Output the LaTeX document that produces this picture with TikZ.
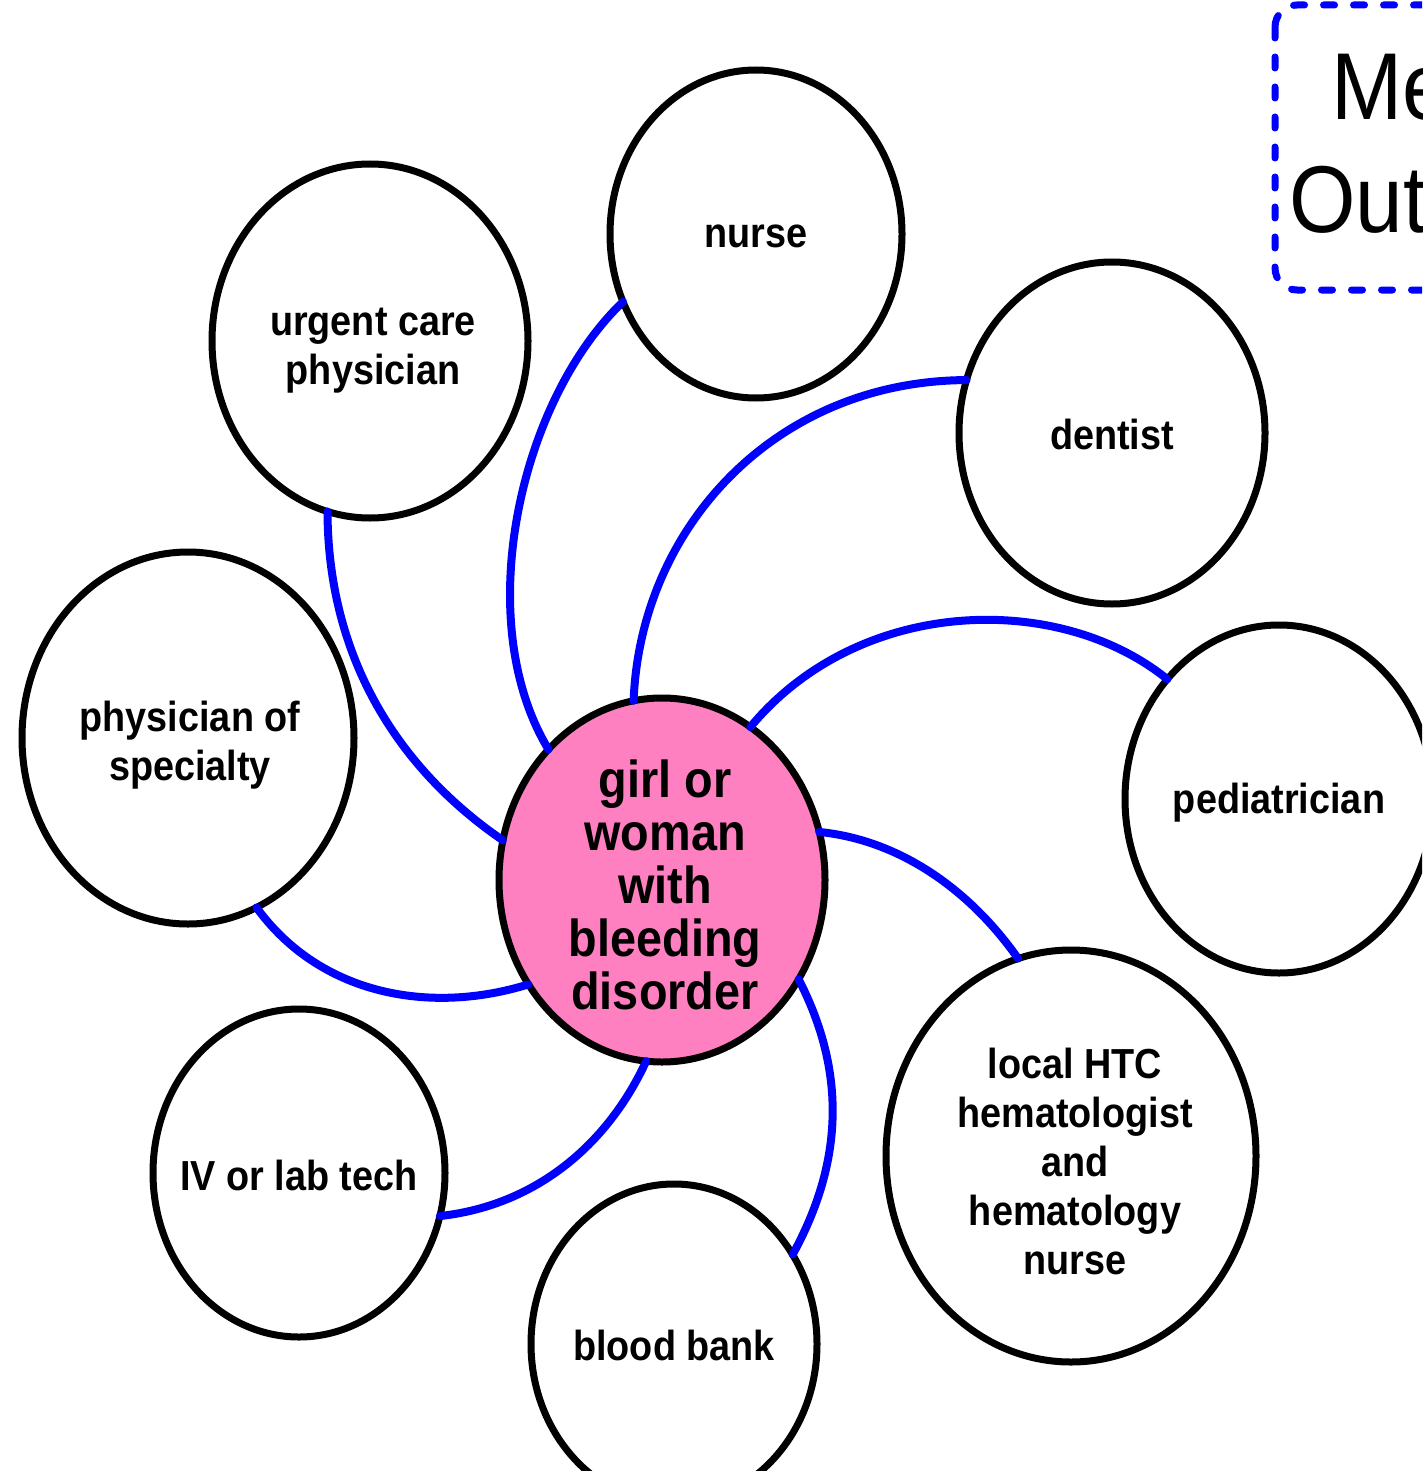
\documentclass[tikz,border=0pt]{standalone}
\usepackage{fontspec}
\setmainfont{Liberation Sans}[FakeStretch=0.9]
\usetikzlibrary{shapes.geometric}
\definecolor{pinkfill}{RGB}{255,128,192}
\begin{document}
\begin{tikzpicture}[x=1pt,y=-1pt,
  circ/.style={draw=black,line width=7pt,ellipse,inner sep=0pt,outer sep=0pt},
  lbl/.style={inner sep=0pt,align=center,font=\fontsize{42}{49}\selectfont\bfseries},
  biglbl/.style={inner sep=0pt,align=center,font=\fontsize{52}{53}\selectfont\bfseries},
  link/.style={draw=blue,line width=8pt,line cap=round},
  bigtext/.style={anchor=base west,inner sep=0pt,font=\fontsize{95}{113}\selectfont}]
\useasboundingbox (0,0) rectangle (1422,1471);
\clip (0,0) rectangle (1422,1471);
% shapes
\node[circ,minimum width=292pt,minimum height=328pt] (nurse) at (756,234) {};
\node[circ,minimum width=316pt,minimum height=354pt] (urgent) at (370,341) {};
\node[circ,minimum width=306pt,minimum height=342pt] (dentist) at (1112,433) {};
\node[circ,minimum width=332pt,minimum height=372pt] (spec) at (188,738) {};
\node[circ,minimum width=308pt,minimum height=348pt] (ped) at (1279,799) {};
\node[circ,minimum width=292pt,minimum height=328pt] (iv) at (299,1173) {};
\node[circ,minimum width=286pt,minimum height=320pt] (blood) at (674,1344) {};
\node[circ,minimum width=370pt,minimum height=412pt] (htc) at (1071,1156) {};
\node[circ,fill=pinkfill,minimum width=326pt,minimum height=364pt] (center) at (662,880) {};
% labels
\node[lbl] (nurse-t) at (756,236) {nurse};
\node[lbl] (urgent-t) at (373,351) {urgent care\\physician};
\node[lbl] (dentist-t) at (1112,434) {dentist};
\node[lbl] (spec-t) at (190,745) {physician of\\specialty};
\node[lbl] (ped-t) at (1279,803) {pediatrician};
\node[lbl] (iv-t) at (299,1175) {IV or lab tech};
\node[lbl] (blood-t) at (674,1345) {blood bank};
\node[lbl] (htc-t) at (1075,1161) {local HTC\\hematologist\\and\\hematology\\nurse};
\node[biglbl] (center-t) at (665,885) {girl or\\woman\\with\\bleeding\\disorder};
% connectors
\draw[link] (nurse.207) .. controls (520,400) and (470,620) .. (center.131);
\draw[link] (dentist.160) .. controls (773,381) and (640,530) .. (center.99);
\draw[link] (center.60) .. controls (860,595) and (1060,592) .. (ped.133);
\draw[link] (urgent.256) .. controls (328,660) and (400,770) .. (center.166);
\draw[link] (spec.292) .. controls (320,995) and (430,1015) .. (center.218);
\draw[link] (iv.343) .. controls (540,1205) and (610,1140) .. (center.265);
\draw[link] (blood.37) .. controls (850,1150) and (840,1060) .. (center.324);
\draw[link] (center.17) .. controls (900,840) and (970,890) .. (htc.105);
% top-right box
\draw[blue,line width=7pt,line cap=round,dash pattern=on 11pt off 19pt,rounded corners=22pt]
  (1275,5) rectangle (1600,290);
\node[bigtext] (me) at (1331,120) {Me};
\node[bigtext] (out) at (1289,233) {Out};
\end{tikzpicture}
\end{document}
